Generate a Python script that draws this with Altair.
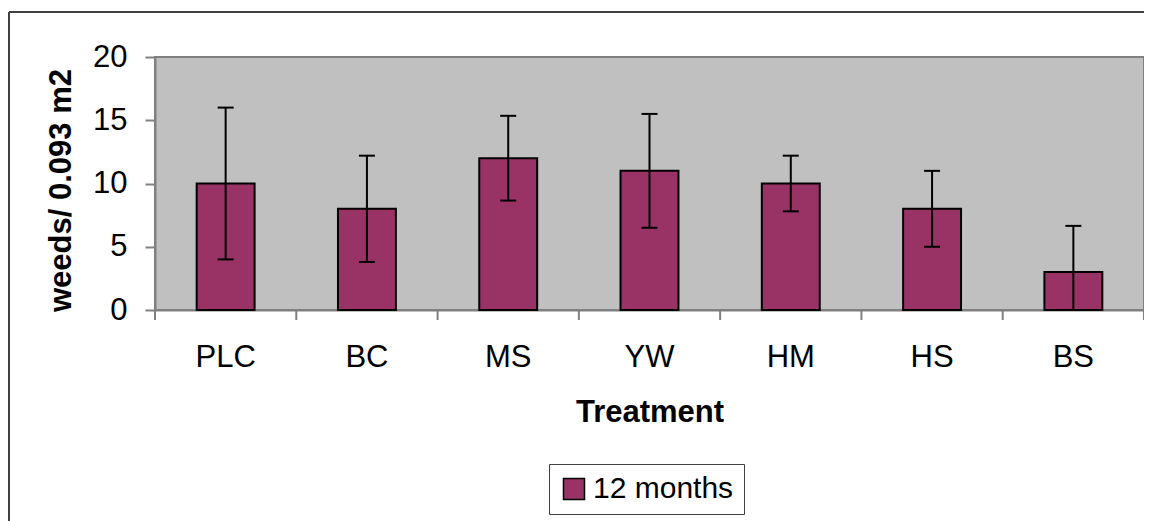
import altair as alt
import pandas as pd

treatments = ["PLC", "BC", "MS", "YW", "HM", "HS", "BS"]
means = [10, 8, 12, 11, 10, 8, 3]
errors = [6.0, 4.2, 3.35, 4.5, 2.2, 3.0, 3.65]
series_name = "12 months"
y_ticks = [0, 5, 10, 15, 20]

df = pd.DataFrame({"Treatment": treatments, "mean": means, "err": errors})
df["lo"] = df["mean"] - df["err"]
df["hi"] = df["mean"] + df["err"]
df["Series"] = series_name

FONT = "Liberation Sans"
GRAY = "#808080"
W, H = 989, 253
P_IN = 0.59
STEP = W / len(treatments)
HALF_GAP = P_IN * STEP / 2

x_enc = alt.X(
    "Treatment:N",
    sort=treatments,
    scale=alt.Scale(paddingInner=P_IN, paddingOuter=P_IN / 2),
    axis=alt.Axis(
        title="Treatment",
        labelAngle=0,
        tickSize=10,
        tickOpacity=0,
        domainColor=GRAY,
        domainWidth=2,
        labelFontSize=31,
        labelColor="black",
        labelBaseline="alphabetic",
        labelPadding=46,
        titleFontSize=31,
        titleFontWeight="bold",
        titleColor="black",
        titleY=111,
        titleBaseline="alphabetic",
    ),
)
x_plain = alt.X("Treatment:N", sort=treatments)

y_enc = alt.Y(
    "mean:Q",
    scale=alt.Scale(domain=[0, 20]),
    axis=alt.Axis(
        values=y_ticks,
        grid=False,
        title="weeds/ 0.093 m2",
        tickSize=10,
        tickWidth=2,
        tickColor=GRAY,
        domainColor=GRAY,
        domainWidth=2,
        labelFontSize=31,
        labelColor="black",
        labelPadding=18,
        titleFontSize=31,
        titleFontWeight="bold",
        titleColor="black",
        titleAngle=270,
        titleX=-85,
        titleY=133,
        titleBaseline="alphabetic",
        titleAlign="center",
    ),
)

bars = alt.Chart(df).mark_bar(stroke="black", strokeWidth=2, opacity=1).encode(
    x=x_enc,
    y=y_enc,
    color=alt.Color(
        "Series:N",
        scale=alt.Scale(range=["#993366"]),
        legend=alt.Legend(
            title=None,
            orient="none",
            legendX=394,
            legendY=407,
            padding=10,
            strokeColor="#404040",
            fillColor="white",
            symbolType="square",
            symbolSize=441,
            symbolStrokeColor="black",
            symbolStrokeWidth=1.5,
            labelFontSize=30,
            labelColor="black",
            labelOffset=4,
        ),
    ),
)

# category-boundary tick marks below the x axis
ticks_start = alt.Chart(df).mark_rule(color=GRAY, strokeWidth=2, xOffset=-HALF_GAP).encode(
    x=alt.X("Treatment:N", sort=treatments, bandPosition=0),
    y=alt.value(H),
    y2=alt.value(H + 10),
)
ticks_end = (
    alt.Chart(df)
    .transform_filter(alt.datum.Treatment == treatments[-1])
    .mark_rule(color=GRAY, strokeWidth=2, xOffset=HALF_GAP)
    .encode(
        x=alt.X("Treatment:N", sort=treatments, bandPosition=1),
        y=alt.value(H),
        y2=alt.value(H + 10),
    )
)

rules = alt.Chart(df).mark_rule(color="black", strokeWidth=2, clip=True).encode(
    x=x_plain, y="lo:Q", y2="hi:Q"
)
caps_hi = alt.Chart(df).mark_tick(color="black", thickness=2, size=16, opacity=1, clip=True).encode(
    x=x_plain, y="hi:Q"
)
caps_lo = alt.Chart(df).mark_tick(color="black", thickness=2, size=16, opacity=1, clip=True).encode(
    x=x_plain, y="lo:Q"
)

one = pd.DataFrame({"k": [0]})
border_left = alt.Chart(one).mark_rule(color="#404040", strokeWidth=2).encode(
    x=alt.value(-146), x2=alt.value(-146), y=alt.value(-45), y2=alt.value(480)
)
border_top = alt.Chart(one).mark_rule(color="#404040", strokeWidth=2).encode(
    x=alt.value(-146), x2=alt.value(995), y=alt.value(-45), y2=alt.value(-45)
)

chart = (
    alt.layer(bars, ticks_start, ticks_end, rules, caps_hi, caps_lo, border_left, border_top)
    .properties(
        width=W,
        height=H,
        autosize=alt.AutoSizeParams(type="none"),
        padding={"left": 147, "top": 49, "right": 0, "bottom": 211},
        background="white",
    )
    .configure(font=FONT)
    .configure_view(fill="#C0C0C0", stroke=GRAY, strokeWidth=2)
)

chart.save("out.html", embed_options={"renderer": "svg", "actions": False})
